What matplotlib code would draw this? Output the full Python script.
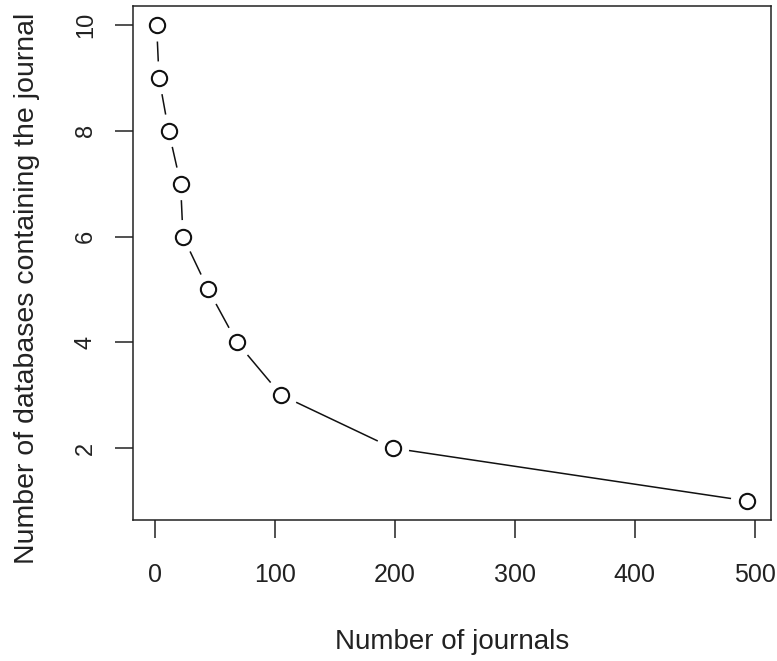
import matplotlib
matplotlib.use("Agg")
import matplotlib.pyplot as plt
import numpy as np

num_journals = [1, 3, 11, 21, 23, 44, 68, 105, 198, 494]
num_databases = [10, 9, 8, 7, 6, 5, 4, 3, 2, 1]
x_ticks = [0, 100, 200, 300, 400, 500]
y_ticks = [2, 4, 6, 8, 10]

plt.rcParams['font.family'] = ['Liberation Sans', 'DejaVu Sans']

W, H = 777, 661
fig = plt.figure(figsize=(W / 100, H / 100), dpi=100)
ax = fig.add_axes([133 / W, 1 - 520 / H, (771 - 133) / W, (520 - 6) / H])

xr = max(num_journals) - min(num_journals)
yr = max(num_databases) - min(num_databases)
ax.set_xlim(min(num_journals) - 0.04 * xr, max(num_journals) + 0.04 * xr)
ax.set_ylim(min(num_databases) - 0.04 * yr, max(num_databases) + 0.04 * yr)

# lines with gaps around points (R type="b")
pts = ax.transData.transform(np.column_stack([num_journals, num_databases]))
gap = 16.5
inv = ax.transData.inverted()
for i in range(len(pts) - 1):
    p0, p1 = pts[i], pts[i + 1]
    d = p1 - p0
    L = np.hypot(*d)
    if L > 2 * gap:
        u = d / L
        a = inv.transform(p0 + u * gap)
        b = inv.transform(p1 - u * gap)
        ax.plot([a[0], b[0]], [a[1], b[1]], color='#111111', lw=1.1, solid_capstyle='butt')

ax.plot(num_journals, num_databases, linestyle='none', marker='o', ms=11,
        mfc='white', mec='#111111', mew=1.5)

ax.set_xticks(x_ticks)
ax.set_yticks(y_ticks)
ax.set_xticklabels([str(v) for v in x_ticks], fontsize=18, color='#222222')
ax.set_yticklabels([str(v) for v in y_ticks], rotation=90, va='center', fontsize=17, color='#222222')
ax.tick_params(direction='out', length=13, width=1.1, color='#222222')
ax.tick_params(axis='x', pad=18)
ax.tick_params(axis='y', pad=13)
for s in ax.spines.values():
    s.set_linewidth(1.1)
    s.set_color('#222222')

ax.set_xlabel('Number of journals', fontsize=20, color='#222222')
ax.set_ylabel('Number of databases containing the journal', fontsize=20.5, color='#222222')
ax.xaxis.label.set_va('baseline')
ax.xaxis.set_label_coords(0.5, -(649 - 520) / 514)
ax.yaxis.label.set_va('baseline')
ax.yaxis.set_label_coords(-(133 - 34) / 638, (520 - 288) / 514)

fig.savefig('out.png', dpi=100)
